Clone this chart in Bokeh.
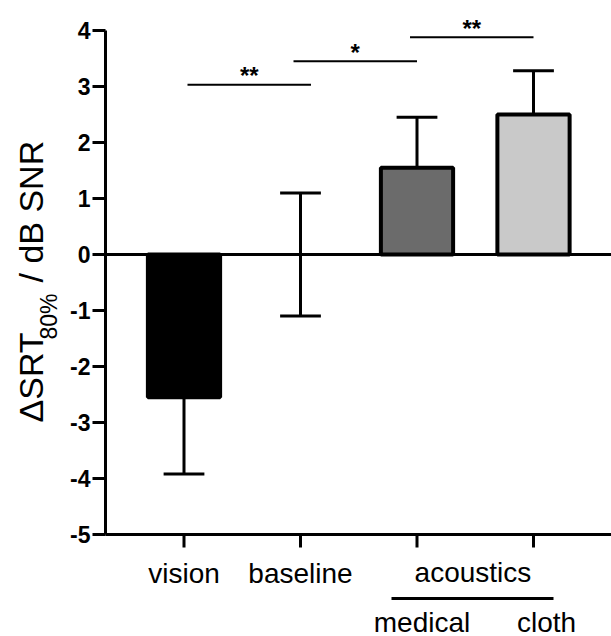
import math
from bokeh.plotting import figure
from bokeh.models import Range1d, ColumnDataSource
from bokeh.core.properties import value
from bokeh.embed import file_html
from bokeh.resources import INLINE

# ---- data ----
categories = ["vision", "baseline", "medical", "cloth"]
means = [-2.55, 0.0, 1.55, 2.5]
errors = [1.37, 1.1, 0.9, 0.78]
bar_colors = ["#000000", "#ffffff", "#6b6b6b", "#c9c9c9"]
sig_starts = [0.03, 0.94, 1.94]
sig_ends = [1.09, 2.0, 3.0]
sig_levels = [3.03, 3.45, 3.88]
sig_marks = ["**", "*", "**"]
y_ticks = [-5, -4, -3, -2, -1, 0, 1, 2, 3, 4]
y_tick_labels = ["-5", "-4", "-3", "-2", "-1", "0", "1", "2", "3", "4"]
axis_labels = ["vision", "baseline"]
group_label = "acoustics"
sub_labels = ["medical", "cloth"]
y_title_main = "\u0394SRT"
y_title_sub = "80%"
y_title_rest = "/ dB SNR"

# ---- geometry (pixel layout helpers) ----
W, H = 611, 636
AXIS_PX = 105
PX_PER_UNIT_Y = 56.0
ZERO_PY = 254.0
PX_PER_CAT = 116.5
CAT0_PX = 183.5

y_start = -(H - ZERO_PY) / PX_PER_UNIT_Y
y_end = ZERO_PY / PX_PER_UNIT_Y
x_start = -CAT0_PX / PX_PER_CAT
x_end = (W - CAT0_PX) / PX_PER_CAT

def px2x(px):
    return (px - CAT0_PX) / PX_PER_CAT

def py2y(py):
    return (ZERO_PY - py) / PX_PER_UNIT_Y

FONT = value("Liberation Sans")

p = figure(width=W, height=H, output_backend="svg", toolbar_location=None,
           x_range=Range1d(x_start, x_end), y_range=Range1d(y_start, y_end),
           x_axis_location=None, y_axis_location=None,
           min_border_left=0, min_border_right=0, min_border_top=0, min_border_bottom=0)
p.outline_line_color = None
p.grid.visible = False
p.background_fill_color = "white"
p.border_fill_color = "white"

y_lo, y_hi = min(y_ticks), max(y_ticks)
ax_x = px2x(AXIS_PX)

# bars (skip baseline with zero height)
idx = [i for i, m in enumerate(means) if m != 0]
bar_src = ColumnDataSource(dict(x=idx, top=[means[i] for i in idx],
                                color=[bar_colors[i] for i in idx]))
p.vbar(x="x", top="top", bottom=0, width=0.62, source=bar_src,
       fill_color="color", line_color="black", line_width=4)

# zero line and bottom axis line
p.segment(x0=[ax_x, ax_x], y0=[0, y_lo], x1=[x_end, x_end], y1=[0, y_lo],
          line_color="black", line_width=3)

# y axis line, ticks, labels
p.segment(x0=[ax_x], y0=[y_lo], x1=[ax_x], y1=[y_hi], line_color="black", line_width=3)
tick_w = 13 / PX_PER_CAT
p.segment(x0=[ax_x - tick_w] * len(y_ticks), y0=y_ticks, x1=[ax_x] * len(y_ticks), y1=y_ticks,
          line_color="black", line_width=3)
p.text(x=[px2x(90)] * len(y_ticks), y=y_ticks, text=y_tick_labels, text_align="right",
       text_baseline="middle", text_font=FONT, text_font_style="bold",
       text_font_size="23px", text_color="black")

# error bars
stem_x, stem_y0, stem_y1 = [], [], []
cap_x0, cap_x1, cap_y = [], [], []
cap_half = 0.175
for i, (m, e) in enumerate(zip(means, errors)):
    if m < 0:
        ends = [m - e]
        stem_y0.append(m); stem_y1.append(m - e)
    elif m > 0:
        ends = [m + e]
        stem_y0.append(m); stem_y1.append(m + e)
    else:
        ends = [m - e, m + e]
        stem_y0.append(m - e); stem_y1.append(m + e)
    stem_x.append(i)
    for yv in ends:
        cap_x0.append(i - cap_half); cap_x1.append(i + cap_half); cap_y.append(yv)
p.segment(x0=stem_x, y0=stem_y0, x1=stem_x, y1=stem_y1, line_color="black", line_width=3)
p.segment(x0=cap_x0, y0=cap_y, x1=cap_x1, y1=cap_y, line_color="black", line_width=3)

# x ticks
tick_len = 13 / PX_PER_UNIT_Y
xs = list(range(len(categories)))
p.segment(x0=xs, y0=[y_lo] * len(xs), x1=xs, y1=[y_lo - tick_len] * len(xs),
          line_color="black", line_width=3)

# x labels
p.text(x=[0, 1], y=[py2y(573)] * 2, text=axis_labels, text_align="center",
       text_baseline="middle", text_font=FONT, text_font_size="28px", text_color="black")
p.text(x=[2.48], y=[py2y(572)], text=[group_label], text_align="center",
       text_baseline="middle", text_font=FONT, text_font_size="28px", text_color="black")
p.segment(x0=[px2x(391)], y0=[py2y(598)], x1=[px2x(553)], y1=[py2y(598)],
          line_color="black", line_width=3)
p.text(x=[px2x(421.5), px2x(546)], y=[py2y(622)] * 2, text=sub_labels, text_align="center",
       text_baseline="middle", text_font=FONT, text_font_size="28px", text_color="black")

# significance lines
p.segment(x0=sig_starts, y0=sig_levels, x1=sig_ends, y1=sig_levels,
          line_color="black", line_width=2)
mids = [(a + b) / 2 for a, b in zip(sig_starts, sig_ends)]
p.text(x=mids, y=[l + 9 / PX_PER_UNIT_Y for l in sig_levels], text=sig_marks,
       text_align="center", text_baseline="middle", text_font=FONT,
       text_font_size="24px", text_font_style="bold", text_color="black")

# y axis title with subscript (rotated text)
p.text(x=[px2x(30)], y=[py2y(422)], text=[y_title_main], angle=math.pi / 2,
       text_align="left", text_baseline="middle", text_font=FONT,
       text_font_size="34px", text_color="black")
p.text(x=[px2x(48)], y=[py2y(339)], text=[y_title_sub], angle=math.pi / 2,
       text_align="left", text_baseline="middle", text_font=FONT,
       text_font_size="23px", text_color="black")
p.text(x=[px2x(30)], y=[py2y(282)], text=[y_title_rest], angle=math.pi / 2,
       text_align="left", text_baseline="middle", text_font=FONT,
       text_font_size="34px", text_color="black")

open("out.html", "w").write(file_html(p, INLINE))
